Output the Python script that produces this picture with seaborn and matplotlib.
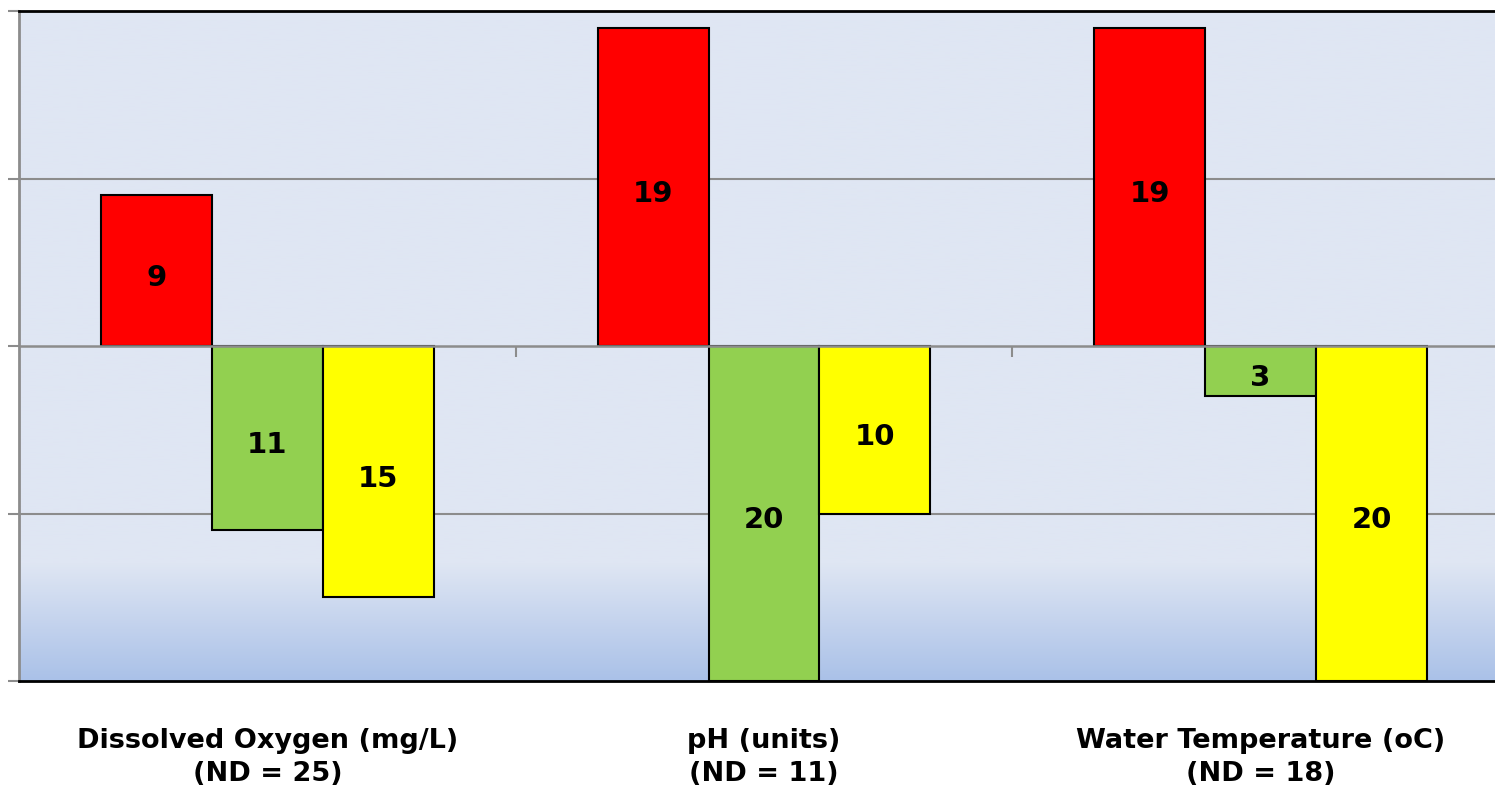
import numpy as np
import pandas as pd
import matplotlib
matplotlib.use('Agg')
import matplotlib.pyplot as plt
import matplotlib.markers as mmarkers
from matplotlib.colors import to_rgb
import seaborn as sns

# chart values
parameters = ['Dissolved Oxygen (mg/L)', 'pH (units)', 'Water Temperature (oC)']
nd_counts = [25, 11, 18]
statuses = ['Red', 'Green', 'Yellow']
red_counts = [9, 19, 19]
green_counts = [11, 20, 3]
yellow_counts = [15, 10, 20]
status_colors = {'Red': '#FF0000', 'Green': '#92D050', 'Yellow': '#FFFF00'}

rows = []
for i, p in enumerate(parameters):
    rows.append((p, 'Red', red_counts[i], red_counts[i]))
    rows.append((p, 'Green', green_counts[i], -green_counts[i]))
    rows.append((p, 'Yellow', yellow_counts[i], -yellow_counts[i]))
df = pd.DataFrame(rows, columns=['parameter', 'status', 'count', 'signed'])

sns.set_style('white')
plt.rcParams['font.family'] = ['DejaVu Sans']
plt.rcParams['text.color'] = 'black'

fig = plt.figure(figsize=(14.95, 7.92), dpi=100)
ax = fig.add_axes([19 / 1495, 111 / 792, 1490 / 1495, 670 / 792])
ax.set_facecolor('none')

sns.barplot(data=df, x='parameter', y='signed', hue='status', hue_order=statuses,
            order=parameters, palette=status_colors, saturation=1, width=0.67,
            edgecolor='black', linewidth=1.5, legend=False, ax=ax, zorder=2)

ax.set_xlim(-0.5, 2.5)
ax.set_ylim(-20, 20)

# background gradient (light blue, darker towards the bottom)
top_c = np.array(to_rgb('#DFE6F3'))
bot_c = np.array(to_rgb('#AAC1E8'))
ys = np.linspace(20, -20, 400)
frac = np.clip((-13 - ys) / 7, 0, 1)[:, None]
grad = (1 - frac) * top_c + frac * bot_c
ax.imshow(grad[:, None, :], extent=(-0.5, 2.5, -20, 20), aspect='auto', zorder=0)

# gridlines
for gy in (-10, 10):
    ax.axhline(gy, color='#8C8C8C', lw=1.5, zorder=1)
ax.axhline(0, color='#8C8C8C', lw=1.8, zorder=3)
ax.plot([0.5, 1.5], [0, 0], linestyle='none', marker=mmarkers.TICKDOWN,
        markersize=8, markeredgewidth=1.5, color='#8C8C8C', zorder=3)

# value labels (slightly below the bar centre, like the original)
for cont, vals, pad in zip(ax.containers, [red_counts, green_counts, yellow_counts],
                           [-5, 5, 5]):
    ax.bar_label(cont, labels=[str(v) for v in vals], label_type='center',
                 padding=pad, fontsize=21, fontweight='bold', color='black',
                 zorder=4)

# spines / ticks
for s in ('top', 'bottom'):
    ax.spines[s].set_color('black')
    ax.spines[s].set_linewidth(2)
ax.spines['right'].set_visible(False)
ax.spines['left'].set_color('#8C8C8C')
ax.spines['left'].set_linewidth(2)
ax.set_yticks([-20, -10, 0, 10, 20])
ax.set_yticklabels([])
ax.tick_params(axis='y', left=True, direction='out', length=8, width=1.5,
               color='#8C8C8C')
ax.set_xticks([])
ax.set_xlabel('')
ax.set_ylabel('')

# category labels under the plot
for i, (p, n) in enumerate(zip(parameters, nd_counts)):
    ax.text(i, -0.114, f'{p}\n(ND = {n})', transform=ax.get_xaxis_transform(),
            ha='center', va='center', fontsize=19.5, fontweight='bold',
            color='black', linespacing=1.35, clip_on=False)

fig.savefig('out.png', dpi=100)
